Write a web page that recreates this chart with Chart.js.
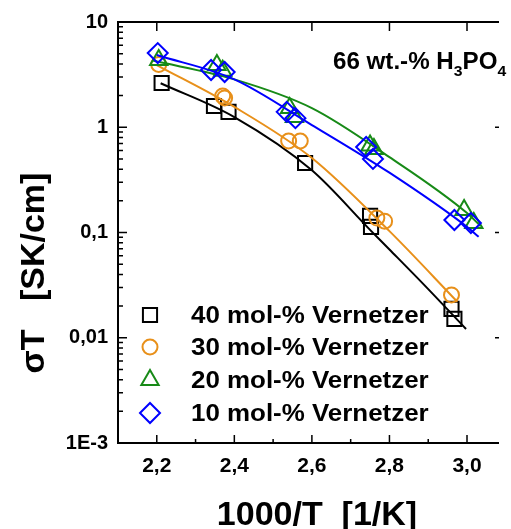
<!DOCTYPE html>
<html>
<head>
<meta charset="utf-8">
<script src="https://cdn.jsdelivr.net/npm/chart.js@4/dist/chart.umd.min.js"></script>
<style>
    html, body { margin: 0; padding: 0; background: #fff; }
    canvas { display: block; }
</style>
</head>
<body>
<canvas id="miGrafica" width="511" height="529"></canvas>
<script>
// Nombres de las series (leyenda)
const nombres = ["40 mol-% Vernetzer", "30 mol-% Vernetzer", "20 mol-% Vernetzer", "10 mol-% Vernetzer"];

// Puntos medidos: 1000/T y sigma*T
const x40 = [2.2125, 2.3475, 2.385, 2.5825, 2.75, 2.7525, 2.96, 2.9675];
const y40 = [2.63, 1.59, 1.40, 0.457, 0.144, 0.113, 0.0188, 0.0151];
const x30 = [2.205, 2.37, 2.375, 2.54, 2.57, 2.7675, 2.7875, 2.96];
const y30 = [3.95, 1.98, 1.90, 0.74, 0.74, 0.137, 0.128, 0.0255];
const x20 = [2.205, 2.355, 2.37, 2.5425, 2.555, 2.75, 2.76, 2.9925, 3.0175];
const y20 = [4.35, 3.90, 3.45, 1.52, 1.25, 0.67, 0.62, 0.164, 0.123];
const x10 = [2.2025, 2.34, 2.375, 2.535, 2.5575, 2.74, 2.7575, 2.9675, 3.01];
const y10 = [5.07, 3.50, 3.35, 1.40, 1.22, 0.65, 0.50, 0.1315, 0.123];

// Curvas de ajuste
const ajusteX40 = [2.21, 2.4, 2.6, 2.75, 2.8, 2.9, 2.9975];
const ajusteY40 = [2.62, 1.25, 0.39, 0.106, 0.069, 0.029, 0.0121];
const ajusteX30 = [2.2, 2.4, 2.6, 2.8, 2.975];
const ajusteY30 = [3.9, 1.56, 0.51, 0.103, 0.022];
const ajusteX20 = [2.19, 2.4, 2.6, 2.8, 3.0, 3.035];
const ajusteY20 = [4.3, 2.85, 1.52, 0.52, 0.153, 0.115];
const ajusteX10 = [2.2, 2.4, 2.6, 2.8, 3.0, 3.03];
const ajusteY10 = [4.85, 2.85, 1.05, 0.37, 0.113, 0.091];

// Etiquetas de los ejes
const xTicks = [2.2, 2.4, 2.6, 2.8, 3.0];
const xTickLabels = ["2,2", "2,4", "2,6", "2,8", "3,0"];
const yTicks = [10, 1, 0.1, 0.01, 0.001];
const yTickLabels = ["10", "1", "0,1", "0,01", "1E-3"];

const colores = ["#000000", "#E8901A", "#178A17", "#0000FF"];
const estilos = ["rect", "circle", "triangle", "rectRot"];
const radios = [10, 7.5, 10, 10];
const fuente = "'Liberation Sans', Arial, sans-serif";

function unir(xs, ys) {
    return xs.map((x, i) => ({ x: x, y: ys[i] }));
}

function puntos(i, xs, ys) {
    return {
        label: nombres[i],
        data: unir(xs, ys),
        showLine: false,
        pointStyle: estilos[i],
        pointRadius: radios[i],
        pointHoverRadius: radios[i],
        pointBorderWidth: 2,
        pointBorderColor: colores[i],
        pointBackgroundColor: "rgba(0,0,0,0)",
        borderColor: colores[i]
    };
}

function curva(i, xs, ys) {
    return {
        label: nombres[i] + " fit",
        data: unir(xs, ys),
        showLine: true,
        pointRadius: 0,
        borderWidth: 2,
        borderColor: colores[i],
        backgroundColor: colores[i],
        cubicInterpolationMode: "monotone",
        fill: false
    };
}

// Texto ensanchado un poco en horizontal
function texto(ctx, t, x, y, ancho) {
    ctx.save();
    ctx.translate(x, y);
    ctx.scale(ancho, 1);
    ctx.fillText(t, 0, 0);
    ctx.restore();
    return ctx.measureText(t).width * ancho;
}

// Marco, marcas de los ejes, textos y leyenda
const marcoPlugin = {
    id: "marco",
    beforeDatasetsDraw(chart) {
        const ctx = chart.ctx;
        const a = chart.chartArea;
        const sx = chart.scales.x;
        const sy = chart.scales.y;
        ctx.save();
        ctx.strokeStyle = "#000";
        ctx.lineWidth = 2;
        ctx.beginPath();
        ctx.moveTo(a.right, a.top);
        ctx.lineTo(a.left, a.top);
        ctx.lineTo(a.left, a.bottom);
        ctx.lineTo(a.right, a.bottom);
        ctx.stroke();

        ctx.lineWidth = 1.5;
        ctx.beginPath();
        // eje x: mayores y menores
        for (let v = 2.1; v < 3.09; v += 0.1) {
            const px = sx.getPixelForValue(v);
            const mayor = Math.round(v * 10) % 2 === 0;
            const len = mayor ? 8 : 4;
            ctx.moveTo(px, a.bottom);
            ctx.lineTo(px, a.bottom - len);
            if (mayor) {
                ctx.moveTo(px, a.top);
                ctx.lineTo(px, a.top + 9);
            }
        }
        // eje y logaritmico
        for (let d = 0.001; d < 10; d *= 10) {
            for (let k = 1; k <= 9; k++) {
                const py = sy.getPixelForValue(k * d);
                const len = k === 1 ? 9 : 5;
                ctx.moveTo(a.left, py);
                ctx.lineTo(a.left + len, py);
            }
        }
        [1, 0.1, 0.01].forEach(v => {
            const py = sy.getPixelForValue(v);
            ctx.moveTo(a.right, py);
            ctx.lineTo(a.right - 4, py);
        });
        ctx.stroke();
        ctx.restore();
    },
    afterDraw(chart) {
        const ctx = chart.ctx;
        ctx.save();
        ctx.fillStyle = "#000";

        // Titulo eje x
        ctx.font = "bold 34px " + fuente;
        ctx.textAlign = "center";
        ctx.textBaseline = "alphabetic";
        ctx.fillText("1000/T  [1/K]", 317, 525);

        // Titulo eje y
        ctx.save();
        ctx.translate(44, 273);
        ctx.rotate(-Math.PI / 2);
        ctx.fillText("\u03C3T   [SK/cm]", 0, 0);
        ctx.restore();

        // Anotacion 66 wt.-% H3PO4
        ctx.textAlign = "left";
        let x = 333;
        const partes = [["66 wt.-% H", 23, 69], ["3", 15, 76], ["PO", 23, 69], ["4", 15, 76]];
        partes.forEach(p => {
            ctx.font = "bold " + p[1] + "px " + fuente;
            x += texto(ctx, p[0], x, p[2], 1.05);
        });

        // Leyenda
        const filas = [315, 347, 380, 413];
        ctx.textBaseline = "middle";
        nombres.forEach((n, i) => {
            ctx.strokeStyle = colores[i];
            ctx.fillStyle = "rgba(0,0,0,0)";
            ctx.lineWidth = 2;
            Chart.helpers.drawPoint(ctx, {
                pointStyle: estilos[i],
                radius: radios[i],
                rotation: 0,
                borderWidth: 2
            }, 150, filas[i]);
            ctx.fillStyle = "#000";
            ctx.font = "bold 24px " + fuente;
            texto(ctx, n, 191, filas[i] + 1, 1.08);
        });
        ctx.restore();
    }
};

const ctx = document.getElementById("miGrafica").getContext("2d");

const myChart = new Chart(ctx, {
    type: "scatter",
    data: {
        datasets: [
            puntos(3, x10, y10),
            curva(3, ajusteX10, ajusteY10),
            puntos(2, x20, y20),
            curva(2, ajusteX20, ajusteY20),
            puntos(1, x30, y30),
            curva(1, ajusteX30, ajusteY30),
            puntos(0, x40, y40),
            curva(0, ajusteX40, ajusteY40)
        ]
    },
    options: {
        responsive: false,
        animation: false,
        layout: { padding: { top: 22, left: 0, right: 0, bottom: 0 } },
        plugins: {
            legend: { display: false },
            tooltip: { enabled: false }
        },
        scales: {
            x: {
                type: "linear",
                min: 2.1,
                max: 3.0825,
                border: { display: false },
                grid: { display: false, drawTicks: false },
                afterBuildTicks: s => { s.ticks = xTicks.map(v => ({ value: v })); },
                afterFit: s => { s.height = 86; },
                ticks: {
                    autoSkip: false,
                    maxRotation: 0,
                    padding: 11,
                    color: "#000",
                    font: { family: fuente, size: 21, weight: "bold" },
                    callback: (v, i) => xTickLabels[i]
                }
            },
            y: {
                type: "logarithmic",
                min: 0.001,
                max: 10,
                border: { display: false },
                grid: { display: false, drawTicks: false },
                afterBuildTicks: s => { s.ticks = yTicks.map(v => ({ value: v })); },
                afterFit: s => { s.width = 118; },
                ticks: {
                    autoSkip: false,
                    padding: 10,
                    color: "#000",
                    font: { family: fuente, size: 20, weight: "bold" },
                    callback: (v, i) => yTickLabels[i]
                }
            }
        }
    },
    plugins: [marcoPlugin]
});
</script>
</body>
</html>
